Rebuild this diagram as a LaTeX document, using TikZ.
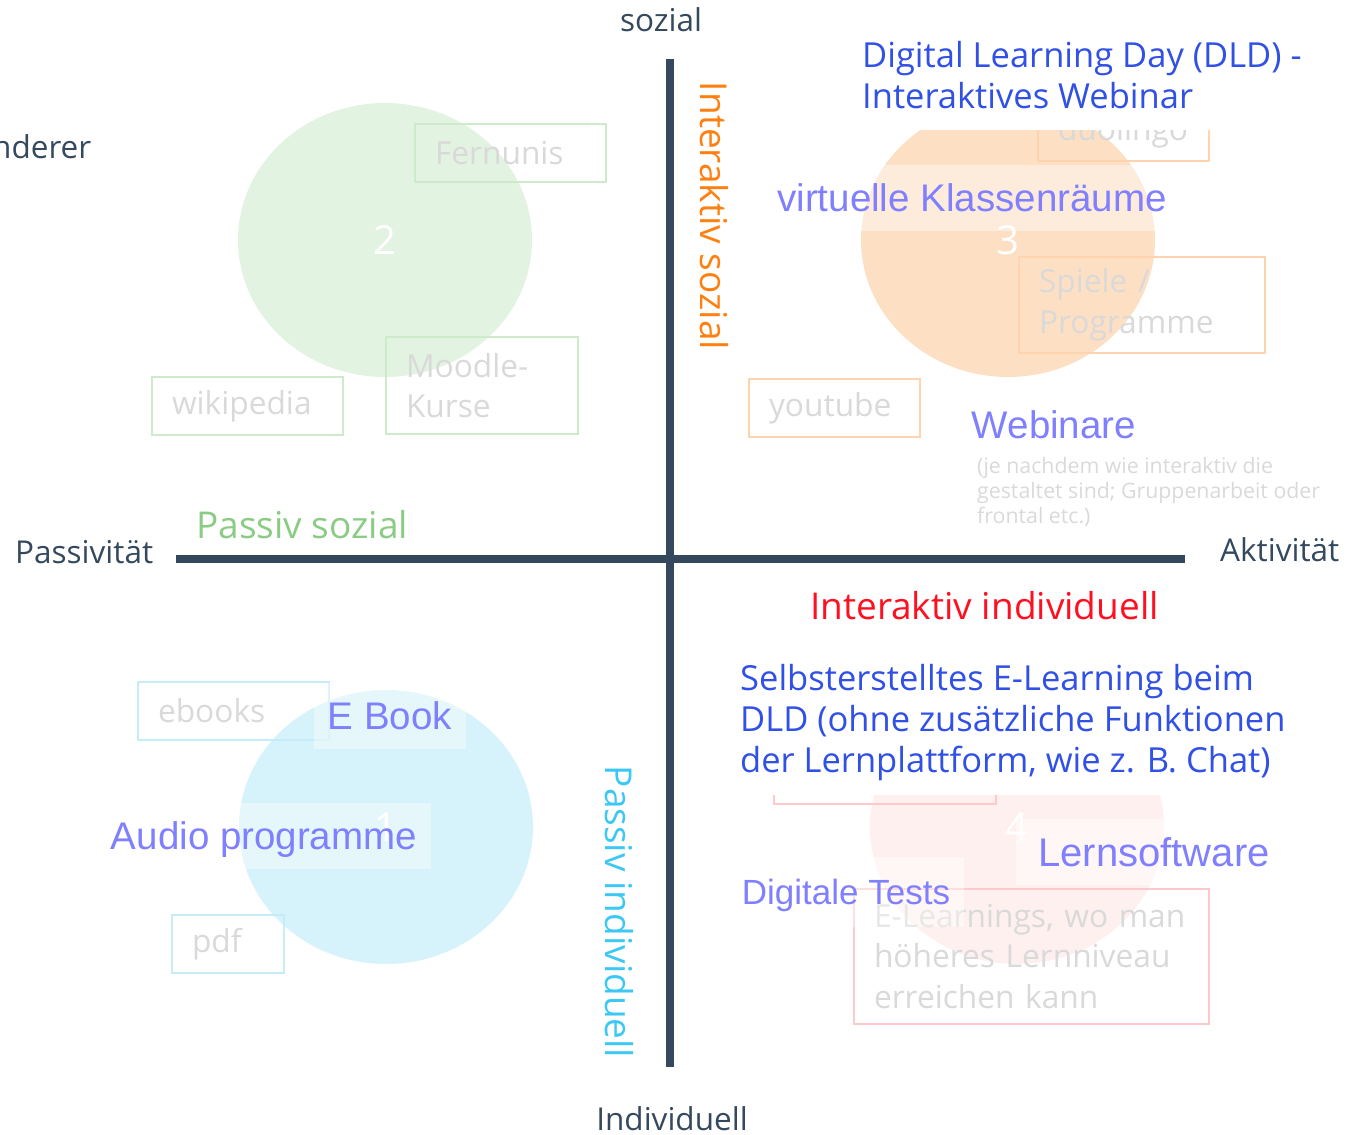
\documentclass[tikz,border=0pt]{standalone}
\usepackage{fontspec}
\setmainfont{Open Sans}
\newfontfamily\arialfont{Liberation Sans}
\usetikzlibrary{shapes.geometric}

\definecolor{achsfarbe}{HTML}{34495E}
\definecolor{grau}{HTML}{D9D9D9}
\definecolor{kgruen}{HTML}{E3F3E1}
\definecolor{korange}{HTML}{FDE0C4}
\definecolor{kblau}{HTML}{D6F2FA}
\definecolor{krosa}{HTML}{FFF0F0}
\definecolor{rgruen}{HTML}{CDEACB}
\definecolor{rorange}{HTML}{FFD3AE}
\definecolor{rblau}{HTML}{C6ECF8}
\definecolor{rrosa}{HTML}{FFC8CB}
\definecolor{tgruen}{HTML}{8ACC84}
\definecolor{torange}{HTML}{FF8010}
\definecolor{tcyan}{HTML}{3CC8F5}
\definecolor{trot}{HTML}{FF1020}
\definecolor{tblau}{HTML}{3050E6}
\definecolor{tlila}{HTML}{8080FF}

\tikzset{
	achse/.style={draw=achsfarbe,line width=7.5pt},
	ax/.style={font=\fontsize{31.5}{38}\selectfont,text=achsfarbe,inner sep=0pt},
	gross/.style={font=\fontsize{37}{44}\selectfont,inner sep=0pt},
	blau/.style={font=\fontsize{34.5}{41}\selectfont,text=tblau,align=left},
	klein/.style={font=\fontsize{21.3}{25}\selectfont,text=grau,align=left,inner sep=0pt},
	kreis/.style={ellipse,minimum width=294pt,minimum height=274pt,inner sep=0pt,text=white,font=\fontsize{40}{40}\selectfont},
	kasten/.style={draw=#1,line width=2pt,anchor=north west,inner xsep=20pt,inner ysep=0pt,align=left,text=grau,font=\fontsize{31.7}{40.5}\selectfont},
	lila/.style={font=\arialfont\fontsize{#1}{#1}\selectfont,text=tlila,fill=white,fill opacity=.4,text opacity=1,inner xsep=14pt,inner ysep=0pt,text height=0.72*#1pt,text depth=0pt,minimum height=66pt},
	lila/.default=38.5
}

\begin{document}
\begin{tikzpicture}[x=1pt,y=-1pt]
	\useasboundingbox (0,0) rectangle (1347,1135);

	% Kreise
	\node[kreis,fill=kgruen] (kreis2) at (385,240) {2};
	\node[kreis,fill=korange] (kreis3) at (1008,240) {3};
	\node[kreis,fill=kblau] (kreis1) at (386,827) {1};
	\node[kreis,fill=krosa] (kreis4) at (1017,827) {4};

	% Kaesten
	\node[kasten=rgruen,text width=151pt,minimum height=58pt] (fernunis) at (414,123) {Fernunis};
	\node[kasten=rgruen,text width=151pt,minimum height=58pt] (wikipedia) at (151,376) {wikipedia};
	\node[kasten=rgruen,text width=152pt,minimum height=97pt] (moodle) at (385,336) {Moodle-\\Kurse};
	\node[kasten=rorange,text width=131pt,minimum height=58pt] (duolingo) at (1037,102) {duolingo};
	\node[kasten=rorange,text width=206pt,minimum height=96pt] (spiele) at (1018,256) {Spiele /\\Programme};
	\node[kasten=rorange,text width=131pt,minimum height=58pt] (youtube) at (748,378) {youtube};
	\node[kasten=rblau,text width=151pt,minimum height=58pt] (ebooks) at (137,681) {ebooks};
	\node[kasten=rblau,text width=72pt,minimum height=58pt] (pdf) at (171,914) {pdf};
	\node[kasten=rrosa,text width=182pt,minimum height=58pt] (rosa) at (773,745) {};
	\node[kasten=rrosa,text width=315pt,minimum height=135pt] (elearn) at (853,888) {E-Learnings, wo man\\höheres Lernniveau\\erreichen kann};

	% DLD
	\node[blau,anchor=west,fill=white,inner xsep=12pt,inner ysep=21pt] (dld) at (850,75) {Digital Learning Day (DLD) -\\Interaktives Webinar};
	\node[blau,anchor=west,fill=white,inner xsep=12pt,inner ysep=14pt] (selbst) at (728,723) {Selbsterstelltes E-Learning beim\\DLD (ohne zusätzliche Funktionen\\der Lernplattform, wie z. B. Chat)};

	% Beispiele
	\node[lila] (virtuell) at (972,198) {virtuelle Klassenräume};
	\node[lila] (webinare) at (1054,425) {Webinare};
	\node[klein,anchor=west] (webtxt) at (977,492) {(je nachdem wie interaktiv die\\gestaltet sind; Gruppenarbeit oder\\frontal etc.)};
	\node[lila] (ebook) at (390,716) {E Book};
	\node[lila] (audio) at (264,836) {Audio programme};
	\node[lila=40,inner xsep=22pt] (lernsw) at (1154,852) {Lernsoftware};
	\node[lila=35,minimum height=70pt] (tests) at (846,892) {Digitale Tests};

	% Achsen
	\coordinate (oben) at (670,59);
	\coordinate (unten) at (670,1067);
	\coordinate (links) at (176,559);
	\coordinate (rechts) at (1185,559);
	\draw[achse] (oben) -- (unten);
	\draw[achse] (links) -- (rechts);

	\node[ax] (sozial) at (661,20) {sozial};
	\node[ax] (individuell) at (672,1119) {Individuell};
	\node[ax,anchor=west] (passivitaet) at (15,552) {Passivität};
	\node[ax,anchor=west] (aktivitaet) at (1220,550) {Aktivität};
	\node[ax,anchor=west] (nderer) at (-8,147) {nderer};

	\node[gross,text=tgruen,anchor=west] (psozial) at (196,525) {Passiv sozial};
	\node[gross,text=trot,anchor=west] (iindiv) at (810,606) {Interaktiv individuell};
	\node[gross,text=torange,rotate=-90] (isozial) at (714,216) {Interaktiv sozial};
	\node[gross,text=tcyan,rotate=-90] (pindiv) at (619,912) {Passiv individuell};
\end{tikzpicture}
\end{document}
